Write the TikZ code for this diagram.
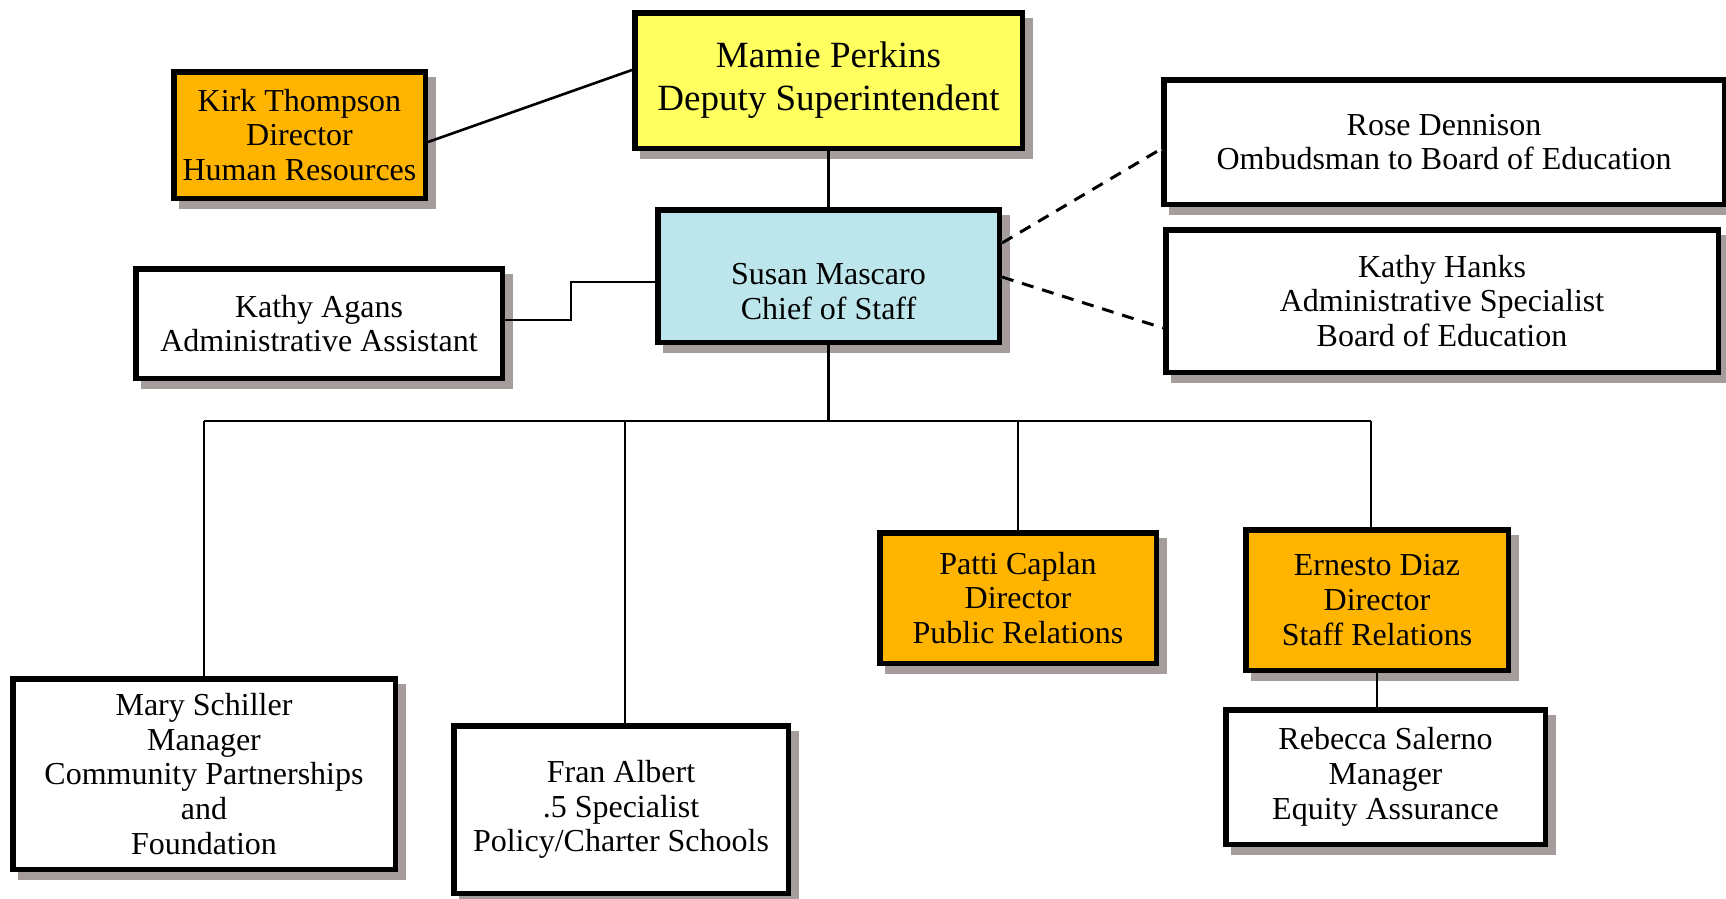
\documentclass[tikz,border=0pt]{standalone}
\usepackage{fontspec}
\setmainfont{Liberation Serif}
\usetikzlibrary{shadows}
\definecolor{shadowgray}{RGB}{165,156,156}
\definecolor{boxyellow}{RGB}{255,255,96}
\definecolor{boxblue}{RGB}{188,230,236}
\definecolor{boxorange}{RGB}{255,180,0}
\tikzset{
  orgbox/.style={draw=black, line width=5.5pt, fill=white, inner sep=0pt,
    align=center, font=\fontsize{32}{34.7}\selectfont,
    general shadow={draw=shadowgray, fill=shadowgray, line width=5.5pt,
      shadow xshift=8pt, shadow yshift=-8pt}},
  conn/.style={draw=black, line width=2.6pt},
  dashconn/.style={draw=black, line width=3pt, dash pattern=on 12pt off 9pt},
  whiteconn/.style={draw=white, line width=3pt},
}
\begin{document}
\begin{tikzpicture}[x=1pt,y=-1pt]
\useasboundingbox (0,0) rectangle (1726,898);
% boxes
\node[orgbox, fill=boxyellow, minimum width=387.5pt, minimum height=135.5pt,
  font=\fontsize{37}{43}\selectfont] (mamie) at (828.5,80.5) {Mamie Perkins\\Deputy Superintendent};
\node[orgbox, fill=boxorange, minimum width=251.5pt, minimum height=126.5pt] (kirk) at (299.5,135) {Kirk Thompson\\Director\\Human Resources};
\node[orgbox, minimum width=560.5pt, minimum height=124.5pt] (rose) at (1444,142) {Rose Dennison\\Ombudsman to Board of Education};
\node[orgbox, minimum width=552.5pt, minimum height=142.5pt] (hanks) at (1442,301) {Kathy Hanks\\Administrative Specialist\\Board of Education};
\node[orgbox, fill=boxblue, minimum width=341.5pt, minimum height=132.5pt,
  label={[name=susant, align=center, font=\fontsize{32}{34.7}\selectfont, yshift=-15.5pt]center:Susan Mascaro\\Chief of Staff}] (susan) at (828.5,276) {};
\node[orgbox, minimum width=366.5pt, minimum height=109.5pt] (agans) at (319,323.5) {Kathy Agans\\Administrative Assistant};
\node[orgbox, minimum width=382.5pt, minimum height=190.5pt] (mary) at (204,774) {Mary Schiller\\Manager\\Community Partnerships\\and\\Foundation};
\node[orgbox, minimum width=334.5pt, minimum height=167.5pt] (fran) at (621,809.5) {Fran Albert\\.5 Specialist\\Policy/Charter Schools};
\node[orgbox, fill=boxorange, minimum width=276.5pt, minimum height=130.5pt] (patti) at (1018,598) {Patti Caplan\\Director\\Public Relations};
\node[orgbox, fill=boxorange, minimum width=262.5pt, minimum height=140.5pt] (ernesto) at (1377,600) {Ernesto Diaz\\Director\\Staff Relations};
\node[orgbox, minimum width=319.5pt, minimum height=134.5pt] (rebecca) at (1385.5,777) {Rebecca Salerno\\Manager\\Equity Assurance};
% connectors
\coordinate (barL) at (204,421);
\coordinate (barR) at (1371,421);
\coordinate (agk) at (571,300);
\draw[conn] ([yshift=-7pt]kirk.east) -- ([yshift=10.5pt]mamie.west);
\draw[conn] (mamie.south) -- (susan.north);
\draw[conn] ([yshift=3.5pt]agans.east) -| (agk) |- ([yshift=-6pt]susan.west);
\draw[conn] (susan.south) -- (susan.south |- barL);
\draw[conn] (barL) -- (barR);
\draw[conn] (barL) -- (mary.north);
\draw[conn] ([xshift=4pt]fran.north |- barL) -- ([xshift=4pt]fran.north);
\draw[conn] (patti.north |- barL) -- (patti.north);
\draw[conn] (barR) -- (barR |- ernesto.north);
\draw[conn] (ernesto.south) -- (ernesto.south |- rebecca.north);
\draw[whiteconn] ([yshift=33pt]susan.east) -- ([yshift=-7pt]rose.west);
\draw[dashconn] ([yshift=33pt]susan.east) -- ([yshift=-7pt]rose.west);
\draw[whiteconn] ([yshift=-1pt]susan.east) -- ([yshift=-27pt]hanks.west);
\draw[dashconn] ([yshift=-1pt]susan.east) -- ([yshift=-27pt]hanks.west);
\end{tikzpicture}
\end{document}
